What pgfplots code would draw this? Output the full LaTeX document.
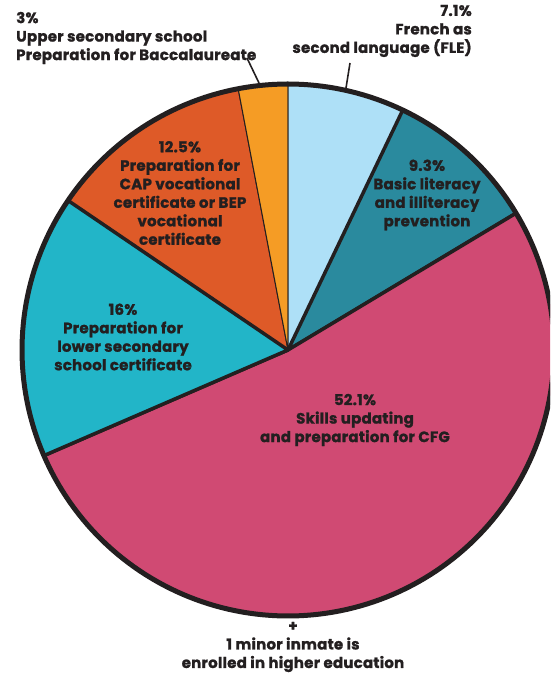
\documentclass[border=0pt]{standalone}
\usepackage{pgfplots}
\pgfplotsset{compat=1.18}
\usepackage{fontspec}
\setmainfont{Poppins}[LetterSpace=1.5, BoldFeatures={FakeBold=1.2}]
\definecolor{pieline}{HTML}{231F20}
\definecolor{cFLE}{HTML}{AEE0F7}
\definecolor{cLit}{HTML}{2A8A9E}
\definecolor{cCFG}{HTML}{D04A73}
\definecolor{cLow}{HTML}{22B5C8}
\definecolor{cCAP}{HTML}{DE5A28}
\definecolor{cBac}{HTML}{F59C25}
% slice: start (cumulative %), share (%), colour, line width
\newcommand{\pieslice}[4]{%
  \addplot[fill=#3, draw=pieline, line width=#4, line join=round, domain={(#1)*3.6}:{(#1+#2)*3.6}, samples=90, variable=\t]
    ({288+266*sin(\t)}, {323+266*cos(\t)}) -- (axis cs:288,323) -- cycle;}
\begin{document}
\begin{tikzpicture}
\begin{axis}[
  scale only axis, width=550pt, height=673pt,
  xmin=0, xmax=550, ymin=0, ymax=673,
  hide axis, clip=true,
]
\coordinate (SW) at (axis cs:0,0);
\coordinate (NE) at (axis cs:550,673);
% thin-edged slices first
\pieslice{84.5}{12.5}{cCAP}{1pt}
\pieslice{97}{3}{cBac}{1pt}
\pieslice{0}{7.1}{cFLE}{1pt}
% thick-edged slices
\pieslice{7.1}{9.3}{cLit}{3.5pt}
\pieslice{16.4}{52.1}{cCFG}{3.5pt}
\pieslice{68.5}{16}{cLow}{3.5pt}
% outer rim
\addplot[draw=pieline, line width=5pt, domain=0:360, samples=240, variable=\t]
  ({288+266*sin(\t)}, {323+266*cos(\t)}) -- cycle;
% leader lines
\draw[pieline, line width=1.6pt] (axis cs:247,615) -- (axis cs:259,590);
\draw[pieline, line width=1.6pt] (axis cs:350,610) -- (axis cs:346,585);
\tikzset{lab/.style={font=\fontsize{15}{18.5}\selectfont\bfseries, text=pieline, inner sep=0pt}}
\node[lab, align=left, anchor=west] at (axis cs:16,635) {3\%\\Upper secondary school\\Preparation for Baccalaureate};
\node[lab, align=right, anchor=east] at (axis cs:472,642) {7.1\%\\French as\\second language (FLE)};
\node[lab, align=center] at (axis cs:427,478) {9.3\%\\Basic literacy\\and illiteracy\\prevention};
\node[lab, align=center] at (axis cs:180,480) {12.5\%\\Preparation for\\CAP vocational\\certificate or BEP\\vocational\\certificate};
\node[lab, align=center] at (axis cs:123,336) {16\%\\Preparation for\\lower secondary\\school certificate};
\node[lab, align=center] at (axis cs:355,253) {52.1\%\\Skills updating\\and preparation for CFG};
\node[lab, align=center] at (axis cs:293,26) {+\\1 minor inmate is\\enrolled in higher education};
\end{axis}
\pgfresetboundingbox
\path (SW) rectangle (NE);
\end{tikzpicture}
\end{document}
